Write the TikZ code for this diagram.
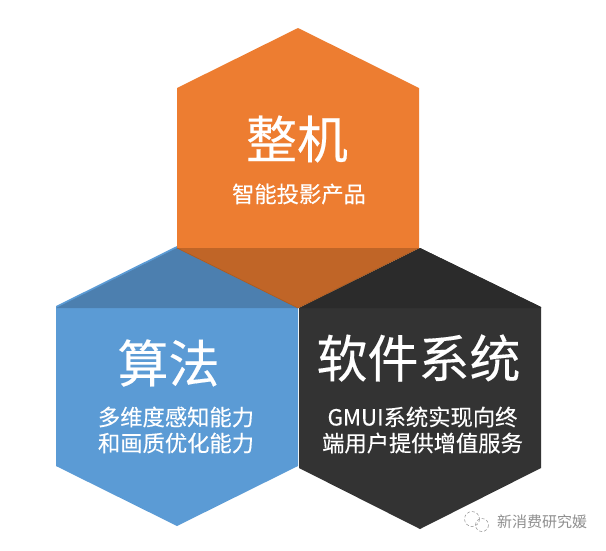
\documentclass[tikz,border=0pt]{standalone}
\usepackage{fontspec}
\newfontfamily\cjk{Noto Sans CJK SC}
\newfontfamily\cjkb{Noto Sans CJK SC}[FakeBold=0.25]
\definecolor{orangeC}{HTML}{ED7D31}
\definecolor{blueC}{HTML}{5B9BD5}
\definecolor{darkC}{HTML}{333333}
\definecolor{ovBlue}{HTML}{4C7FAF}
\definecolor{ovDark}{HTML}{2B2B2B}
\definecolor{ovOrange}{HTML}{C06527}
\definecolor{edgeC}{HTML}{A65A22}
\definecolor{markC}{HTML}{8F8F8F}
\tikzset{
 x=1pt,y=-1pt,
 titletxt/.style={text=white,font=\cjkb\fontsize{51}{51}\selectfont,inner sep=0,anchor=center},
 subtxt/.style={text=white,font=\cjkb\fontsize{22.3}{26}\selectfont,inner sep=0,anchor=center,align=center},
 marktxt/.style={text=markC,font=\cjk\fontsize{15}{15}\selectfont,inner sep=0,anchor=center}
}
\begin{document}
\begin{tikzpicture}
\useasboundingbox (0,0) rectangle (606,550);
\fill[white] (0,0) rectangle (606,550);
\fill[blueC] (56,306) -- (177,246) -- (298,308) -- (298,466) -- (177,526) -- (56,466) -- cycle;
\fill[darkC] (299,308) -- (420,248) -- (541,307) -- (541,468) -- (420,529) -- (299,468) -- cycle;
\fill[ovBlue] (56,308) -- (177,248) -- (298,308) -- cycle;
\fill[ovDark] (299,308) -- (420,248) -- (541,307) -- (541,308) -- cycle;
\fill[orangeC] (298,28) -- (419,88) -- (419,248) -- (298,308) -- (177,248) -- (177,88) -- cycle;
\fill[ovOrange] (177,248) -- (419,248) -- (298,308) -- cycle;
\draw[edgeC,line width=.6pt] (177,248) -- (298,308) -- (419,248);
\node[titletxt] (t1) at (297,139) {整机};
\node[subtxt] (s1) at (299,194) {智能投影产品};
\node[titletxt] (t2) at (168.5,363) {算法};
\node[subtxt] (s2) at (176,430) {多维度感知能力\\和画质优化能力};
\node[titletxt] (t3) at (418.5,358) {软件系统};
\node[subtxt] (s3) at (422.5,430) {GMUI系统实现向终\\端用户提供增值服务};
\node[marktxt] (m) at (542,522) {新消费研究媛};
\draw[markC,line width=.5pt,densely dashed] (472,519) circle (7.5);
\draw[markC,line width=.5pt,densely dashed] (482,525) circle (6.5);
\end{tikzpicture}
\end{document}
